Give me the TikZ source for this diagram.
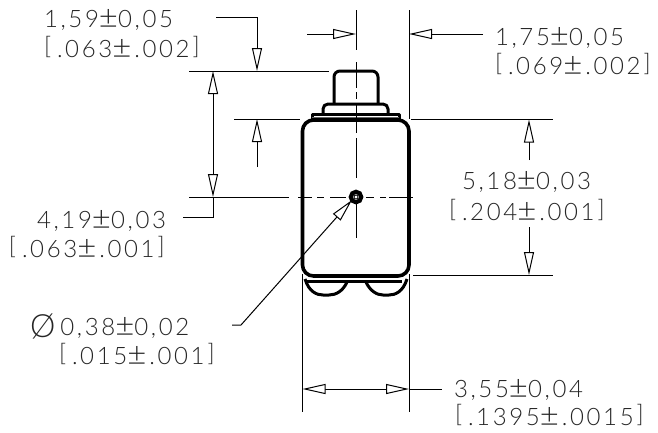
\documentclass[tikz,border=0pt]{standalone}
\usepackage{fontspec}
\setmainfont{Lato Light}[LetterSpace=11]
\usetikzlibrary{arrows.meta}
\newcommand\pmx{\smash{\raisebox{-1pt}{\fontsize{33}{25}\selectfont ±}}}
\newcommand\lbx{\smash{\raisebox{3pt}{[}}\kern3pt}
\newcommand\rbx{\kern3pt\smash{\raisebox{3pt}{]}}}
\newcommand\dotx{\kern3pt.\kern2.5pt}
\newcommand\dia{\smash{\raisebox{-2pt}{\fontsize{32}{25}\selectfont Ø}}\kern5pt}
\tikzset{
  thin line/.style={draw=black,line width=1pt},
  thick line/.style={draw=black,line width=3.6pt,line join=round},
  mid line/.style={draw=black,line width=3pt,line join=round},
  dimtip/.tip={Triangle[open,fill=white,length=23pt,width=10pt,line width=1pt]},
  dimtext/.style={anchor=base west,inner sep=0pt,outer sep=0pt,font=\fontsize{24}{25}\selectfont,text=black!85},
}
\begin{document}
\begin{tikzpicture}[x=1pt,y=-1pt]
\useasboundingbox (0,0) rectangle (658,432);
\fill[white] (0,0) rectangle (658,432);
% part outline
\draw[mid line,rounded corners=6pt] (334,104) -- (334,71) -- (378,71) -- (378,104);
\draw[mid line,rounded corners=5pt] (323,114) -- (323,104) -- (388,104) -- (388,114);
\draw[mid line] (312,119) -- (312,114) -- (399,114) -- (399,119);
\draw[line width=4pt] (336,120) -- (376,120);
\draw[line width=1.2pt,draw=black!60] (312,117.5) -- (399,117.5);
\draw[thick line,rounded corners=11pt] (356,120) -- (302.5,120) -- (302.5,276) -- (409,276) -- (409,120) -- cycle;
\draw[mid line] (306,281) -- (402,281);
\draw[mid line,rounded corners=3pt] (305,279) .. controls (309,292) and (317,295) .. (326,295) .. controls (336,295) and (343,291) .. (347,282);
\draw[mid line,rounded corners=3pt] (366,282) .. controls (370,291) and (377,295) .. (386,295) .. controls (395,295) and (403,292) .. (407,279);
% coordinates
\coordinate (hole) at (356,197);
\coordinate (topL) at (329,71);
\coordinate (topR) at (189,71);
% centre lines
\draw[thin line] (356,62) -- (356,88) (356,92) -- (356,99) (356,105) -- (356,130);
\draw[thin line] (356,10) -- (356,50);
\draw[thin line] (356,130) -- (356,133) (356,138) -- (356,178);
\draw[thin line] (356,204) -- (356,238);
\draw[thin line] (189,197) -- (289,197) (298,197) -- (312,197) (317,197) -- (324,197) (330,197) -- (346,197)
  (366,197) -- (374,197) (380,197) -- (386,197) (389,197) -- (413,197);
% hole
\draw[line width=4.2pt] (hole) circle (5.2pt);
\draw[line width=.8pt] (hole) circle (2pt);
% extension lines
\draw[thin line] (topR) -- (topL);
\draw[thin line] (234,119) -- (300,119);
\draw[thin line] (409,10) -- (409,119);
\draw[thin line] (411,119.5) -- (553,119.5);
\draw[thin line] (413,275) -- (553,275);
\draw[thin line] (302.5,274) -- (302.5,412);
\draw[thin line] (409,274) -- (409,412);
% dimension arrows
\draw[thin line,-{dimtip}] (216,17) -- (257,17) -- (257,71);
\draw[thin line,{dimtip}-{dimtip}] (213,71) -- (213,197);
\draw[thin line] (213,197) -- (213,217) -- (183,217);
\draw[thin line,-{dimtip}] (257,167) -- (257,119);
\draw[thin line,-{dimtip}] (307,34) -- (356,34);
\draw[thin line,-{dimtip}] (483,34) -- (409,34);
\draw[thin line,-{dimtip}] (529,160) -- (529,119.5);
\draw[thin line,-{dimtip}] (529,227) -- (529,275);
\draw[thin line,{dimtip}-{dimtip}] (302.5,389) -- (409,389);
\draw[thin line] (409,389) -- (442,389);
\draw[thin line,-{dimtip}] (232,325) -- (241,325) -- (352,200);
% labels
\node[dimtext] (a1) at (44,27) {1,59\pmx 0,05};
\node[dimtext] (a2) at (44,57) {\lbx\dotx 063\pmx\dotx 002\rbx};
\node[dimtext] (b1) at (495,45) {1,75\pmx 0,05};
\node[dimtext] (b2) at (495,74) {\lbx\dotx 069\pmx\dotx 002\rbx};
\node[dimtext] (c1) at (462,189) {5,18\pmx 0,03};
\node[dimtext] (c2) at (449,220) {\lbx\dotx 204\pmx\dotx 001\rbx};
\node[dimtext] (d1) at (37,228) {4,19\pmx 0,03};
\node[dimtext] (d2) at (9,257) {\lbx\dotx 063\pmx\dotx 001\rbx};
\node[dimtext] (e1) at (30,335) {\dia 0,38\pmx 0,02};
\node[dimtext] (e2) at (59,364) {\lbx\dotx 015\pmx\dotx 001\rbx};
\node[dimtext] (f1) at (454,397) {3,55\pmx 0,04};
\node[dimtext] (f2) at (455,425) {\lbx\dotx 1395\pmx\dotx 0015\rbx};
\end{tikzpicture}
\end{document}
